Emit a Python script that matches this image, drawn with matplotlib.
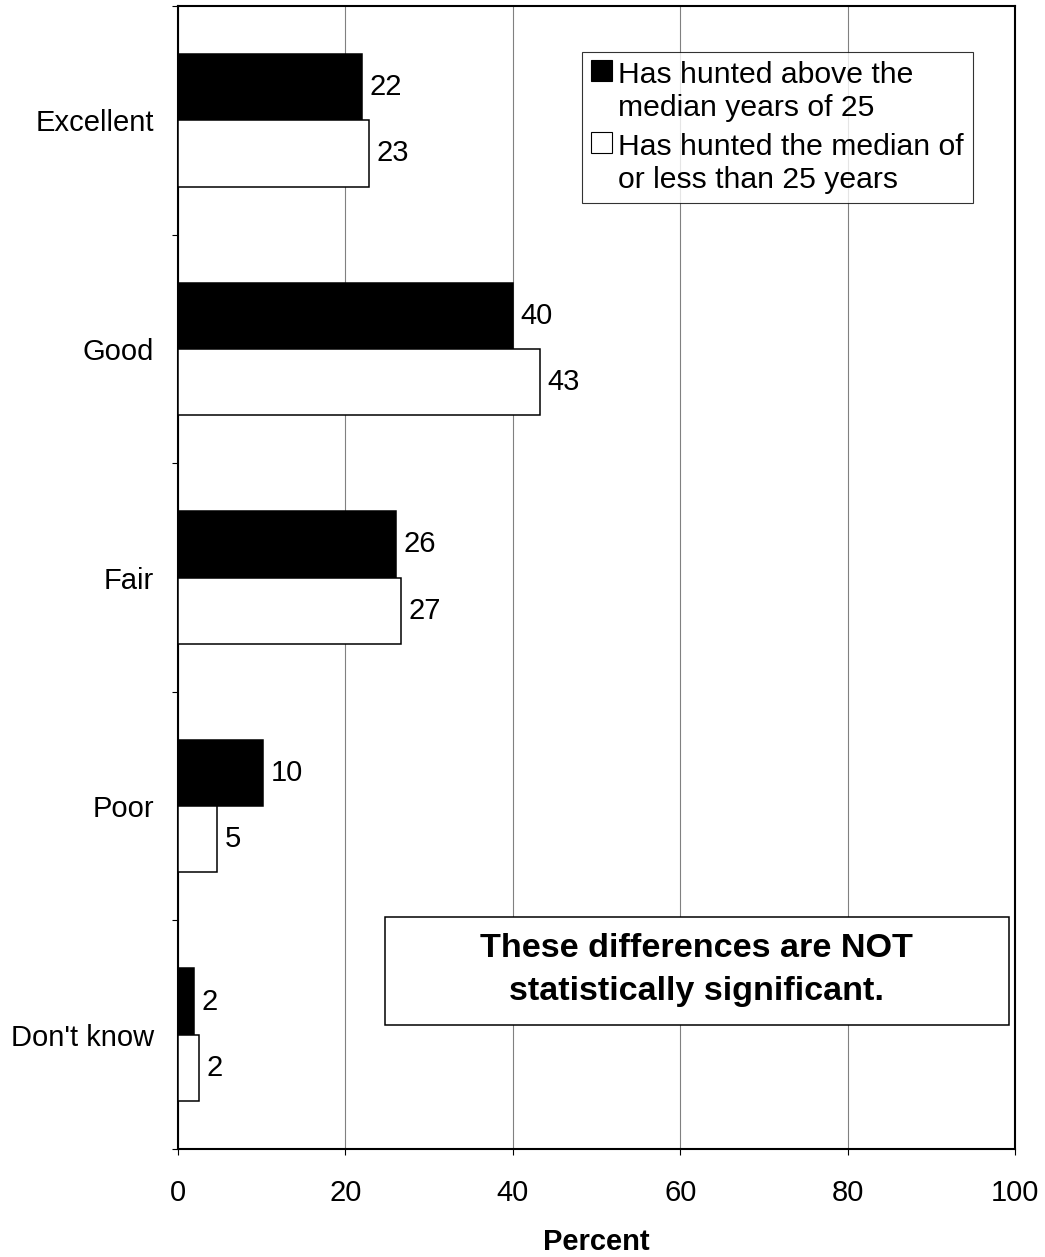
import matplotlib
matplotlib.use("Agg")
import matplotlib.pyplot as plt
import numpy as np
from matplotlib.patches import Rectangle, Patch
from matplotlib.legend_handler import HandlerPatch

plt.rcParams['font.family'] = ['Liberation Sans', 'DejaVu Sans']

# data
categories = ["Excellent", "Good", "Fair", "Poor", "Don't know"]
above_median = [22.0, 40.0, 26.0, 10.2, 1.9]
at_or_below_median = [22.8, 43.2, 26.6, 4.7, 2.5]
above_labels = ["22", "40", "26", "10", "2"]
below_labels = ["23", "43", "27", "5", "2"]
series_names = ["Has hunted above the\nmedian years of 25",
                "Has hunted the median of\nor less than 25 years"]
xticks = [0, 20, 40, 60, 80, 100]

FS = 21
LEG_FS = 21.7
LEG_SHIFT = 0.72  # handle moved up to first text line (in em)


class TopPatch(HandlerPatch):
    def create_artists(self, legend, orig_handle, xdescent, ydescent,
                       width, height, fontsize, trans):
        r = Rectangle((-xdescent, -ydescent + LEG_SHIFT * fontsize), width, height)
        self.update_prop(r, orig_handle, legend)
        r.set_transform(trans)
        return [r]


fig = plt.figure(figsize=(10.45, 12.57), dpi=100)
ax = fig.add_axes([0.1703, 0.0859, 0.8010, 0.9093])

y = np.arange(len(categories))
h = 0.29
b1 = ax.barh(y - h / 2, above_median, height=h, color='black',
             edgecolor='black', linewidth=1.1, zorder=3)
b2 = ax.barh(y + h / 2, at_or_below_median, height=h, color='white',
             edgecolor='black', linewidth=1.1, zorder=3)
ax.bar_label(b1, labels=above_labels, padding=5.5, fontsize=FS)
ax.bar_label(b2, labels=below_labels, padding=5.5, fontsize=FS)

ax.set_xlim(0, 100)
ax.set_ylim(len(categories) - 0.5, -0.5)
ax.set_xticks(xticks)
ax.set_xticklabels([str(v) for v in xticks], fontsize=FS)
ax.set_yticks(y)
ax.set_yticklabels(categories, fontsize=FS)
ax.set_yticks(np.arange(len(categories) + 1) - 0.5, minor=True)
ax.tick_params(axis='y', which='major', length=0, pad=17)
ax.tick_params(axis='y', which='minor', length=4.5, width=0.8, direction='out')
ax.tick_params(axis='x', length=4.5, width=0.8, direction='out', pad=17)

ax.xaxis.grid(True, color='#808080', linewidth=0.8, zorder=0)
ax.set_axisbelow(True)
for s in ax.spines.values():
    s.set_linewidth(1.5)
    s.set_color('black')

ax.set_xlabel("Percent", fontsize=FS, fontweight='bold', labelpad=15)

handles = [Patch(facecolor='black', edgecolor='black', linewidth=0.8),
           Patch(facecolor='white', edgecolor='black', linewidth=0.8)]
leg = ax.legend(handles, series_names, loc='upper right',
                bbox_to_anchor=(0.950, 0.960), fontsize=LEG_FS, frameon=True,
                fancybox=False, shadow=False, borderpad=0.3, borderaxespad=0,
                handlelength=0.7, handleheight=0.7, handletextpad=0.2,
                labelspacing=0.35, handler_map={Patch: TopPatch()})
leg.get_frame().set_edgecolor('black')
leg.get_frame().set_linewidth(0.8)
leg.set_zorder(5)
for t in leg.get_texts():
    t.set_linespacing(1.25)

# note box
ax.add_patch(Rectangle((24.7, 3.487), 74.6, 0.469, transform=ax.transData,
                       facecolor='white', edgecolor='black', linewidth=1.1,
                       zorder=4))
ax.text(62.0, 3.715, "These differences are NOT\nstatistically significant.",
        ha='center', va='center', fontsize=24.6, fontweight='bold',
        linespacing=1.5, zorder=6)

fig.savefig("out.png", dpi=100)
